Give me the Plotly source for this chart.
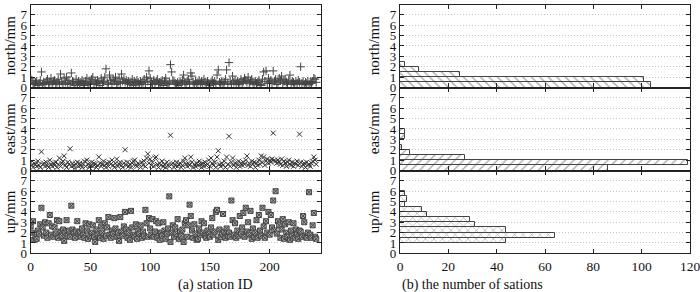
import plotly.graph_objects as go

station_ids = list(range(240))

north = [
    0.9, 0.7, 0.4, 0.3, 0.5, 0.6, 0.2, 0.4, 0.7, 1.5, 0.3, 0.5, 0.4, 0.6, 0.8, 0.3, 0.5, 0.9, 0.4, 0.6,
    0.7, 0.3, 0.5, 0.8, 0.4, 1.3, 0.6, 0.3, 0.9, 0.5, 1.0, 0.4, 0.7, 0.3, 1.4, 0.6, 0.5, 0.2, 0.8, 0.4,
    0.6, 0.3, 0.5, 0.7, 0.4, 0.2, 0.6, 0.9, 0.3, 0.5, 0.4, 0.8, 1.0, 0.3, 0.6, 0.4, 0.7, 0.5, 0.2, 0.9,
    0.4, 0.6, 1.0, 1.8, 0.5, 0.3, 1.2, 0.7, 0.4, 0.8, 0.6, 1.0, 0.3, 0.5, 0.9, 0.4, 1.3, 0.6, 0.8, 0.5,
    0.7, 0.4, 0.6, 0.3, 0.5, 0.8, 0.2, 0.6, 0.4, 0.7, 0.5, 0.3, 0.6, 0.4, 0.5, 0.8, 0.3, 1.0, 0.6, 1.6,
    0.9, 0.5, 0.3, 0.7, 0.4, 0.6, 0.8, 0.3, 0.5, 0.4, 0.7, 0.2, 0.6, 0.9, 0.4, 0.3, 0.5, 2.2, 1.5, 0.7,
    0.6, 0.4, 0.3, 0.5, 0.2, 0.6, 0.4, 0.7, 1.2, 0.5, 0.3, 0.6, 0.8, 0.4, 1.4, 1.1, 0.5, 0.3, 0.6, 0.4,
    0.5, 0.7, 0.3, 0.6, 0.4, 0.8, 0.5, 0.3, 0.6, 0.4, 0.2, 0.5, 0.7, 0.4, 0.6, 0.3, 1.2, 1.7, 0.5, 0.4,
    0.6, 0.3, 0.5, 0.8, 1.7, 0.4, 2.4, 0.6, 0.3, 1.1, 0.5, 0.7, 0.4, 0.6, 0.3, 0.5, 0.8, 0.4, 0.6, 0.9,
    0.7, 0.5, 1.0, 0.4, 0.6, 0.8, 0.5, 0.3, 0.6, 0.4, 0.5, 0.7, 0.3, 0.2, 0.8, 1.5, 0.6, 1.6, 0.4, 0.9,
    0.5, 0.7, 0.4, 1.6, 0.6, 0.8, 0.3, 0.5, 0.9, 0.7, 1.1, 0.4, 0.6, 0.8, 0.5, 0.3, 0.7, 1.2, 0.4, 0.6,
    0.5, 0.3, 0.6, 0.4, 0.7, 0.5, 2.0, 0.4, 0.6, 0.3, 0.5, 0.4, 0.6, 0.3, 0.5, 0.4, 0.6, 0.9, 0.8, 0.5,
]

east = [
    0.8, 0.5, 0.3, 0.7, 0.6, 0.4, 0.9, 0.5, 0.3, 1.8, 0.6, 0.7, 0.4, 0.8, 0.5, 0.3, 1.0, 0.6, 0.4, 0.7,
    0.5, 0.8, 0.3, 0.6, 1.2, 0.4, 0.7, 0.9, 1.4, 0.5, 0.3, 0.8, 0.6, 2.1, 0.4, 0.7, 0.5, 0.2, 0.6, 0.8,
    0.4, 0.7, 0.5, 0.3, 0.6, 0.9, 0.4, 1.0, 0.6, 0.3, 0.5, 0.8, 0.4, 0.7, 0.6, 0.3, 0.5, 1.3, 0.7, 0.4,
    0.6, 0.9, 0.5, 0.3, 0.7, 0.4, 0.8, 0.6, 1.0, 0.5, 0.3, 0.7, 1.1, 0.4, 0.6, 0.8, 0.5, 0.3, 0.7, 2.0,
    0.5, 0.8, 0.4, 0.6, 0.3, 0.7, 0.9, 1.0, 0.5, 0.4, 0.7, 0.6, 0.3, 0.8, 0.5, 0.9, 0.4, 1.2, 1.6, 0.7,
    1.1, 0.5, 0.8, 0.4, 1.2, 1.3, 0.6, 0.3, 0.7, 0.5, 0.9, 0.4, 0.6, 0.3, 0.8, 0.5, 0.4, 3.4, 0.6, 0.7,
    0.3, 0.5, 0.8, 0.4, 0.6, 0.7, 0.3, 0.5, 0.9, 1.2, 0.6, 0.4, 0.7, 0.5, 1.3, 0.8, 0.3, 0.6, 0.4, 0.7,
    0.5, 0.9, 0.6, 0.3, 0.7, 0.4, 0.8, 0.5, 0.6, 1.0, 0.4, 1.2, 0.7, 0.5, 0.8, 0.3, 1.3, 1.9, 0.6, 0.4,
    0.7, 0.5, 0.9, 0.3, 1.3, 0.6, 3.3, 0.4, 0.8, 1.2, 0.5, 0.7, 0.3, 0.6, 0.9, 0.4, 0.7, 0.5, 0.8, 0.6,
    1.0, 1.4, 0.5, 0.7, 0.4, 0.9, 0.6, 0.8, 0.3, 0.7, 0.5, 1.0, 0.6, 1.4, 0.8, 1.3, 0.5, 0.9, 1.1, 0.7,
    1.0, 0.8, 1.1, 3.6, 1.0, 0.9, 0.7, 1.0, 0.8, 0.6, 1.1, 0.5, 0.9, 0.7, 0.4, 0.8, 1.0, 0.6, 0.5, 0.8,
    0.4, 0.7, 0.6, 0.9, 0.5, 3.5, 0.8, 0.4, 0.6, 0.7, 0.3, 0.8, 0.5, 0.6, 0.4, 0.7, 0.9, 1.3, 1.0, 0.6,
]

up = [
    2.6, 2.0, 3.1, 1.3, 1.6, 1.4, 2.2, 1.9, 2.8, 4.4, 2.5, 1.7, 3.0, 2.0, 1.5, 2.9, 3.7, 1.8, 2.6, 1.6,
    2.5, 1.9, 3.2, 1.5, 3.1, 2.1, 1.7, 2.3, 1.2, 2.0, 3.2, 1.8, 2.2, 1.6, 4.6, 2.3, 2.0, 1.5, 2.1, 3.1,
    1.9, 2.1, 1.6, 2.4, 1.8, 1.5, 2.9, 2.2, 1.4, 2.8, 1.7, 2.0, 2.7, 1.6, 1.1, 2.3, 1.8, 3.2, 1.5, 2.6,
    2.0, 1.4, 2.9, 1.7, 2.5, 3.5, 1.8, 1.5, 2.2, 1.9, 3.4, 2.4, 1.6, 2.0, 1.2, 3.5, 2.1, 1.7, 2.6, 4.0,
    2.3, 1.5, 2.0, 1.3, 4.1, 2.5, 1.8, 1.6, 2.8, 1.4, 2.2, 1.9, 2.7, 1.5, 2.1, 1.7, 4.2, 2.9, 1.6, 3.4,
    2.4, 1.8, 3.3, 1.6, 2.1, 3.1, 1.5, 2.9, 1.3, 2.0, 1.7, 3.0, 2.2, 1.4, 1.9, 2.4, 5.5, 1.1, 2.0, 2.7,
    1.6, 2.5, 1.9, 3.3, 1.4, 2.1, 1.7, 2.3, 1.1, 2.9, 3.2, 1.6, 2.7, 4.7, 3.6, 2.2, 1.5, 2.8, 1.9, 1.3,
    1.4, 2.4, 1.8, 3.1, 2.0, 2.9, 1.7, 1.5, 2.2, 1.9, 1.6, 2.5, 3.4, 1.8, 2.1, 4.0, 4.2, 1.3, 2.3, 1.6,
    1.9, 3.8, 2.1, 1.5, 2.4, 1.7, 2.0, 1.6, 5.1, 3.2, 1.8, 2.9, 1.5, 2.2, 1.7, 3.6, 1.9, 2.5, 3.9, 1.6,
    4.4, 2.1, 3.0, 1.8, 4.1, 1.4, 2.4, 1.6, 2.0, 3.2, 1.5, 3.7, 2.2, 1.7, 4.4, 2.6, 1.5, 3.1, 2.0, 4.0,
    1.8, 3.7, 2.5, 5.1, 2.2, 6.0, 1.9, 3.1, 2.7, 1.5, 2.3, 3.3, 1.4, 2.8, 2.0, 1.6, 3.0, 1.3, 2.2, 1.7,
    2.9, 1.5, 2.3, 1.9, 1.4, 2.2, 2.1, 1.6, 3.6, 3.0, 1.7, 1.5, 2.0, 5.9, 1.8, 1.5, 2.7, 3.9, 1.6, 1.4,
]

# histogram bins (bin centres, mm) and counts of stations
north_bins = [0.25, 0.75, 1.25, 1.75, 2.25]
north_counts = [104, 101, 25, 8, 2]
east_bins = [0.25, 0.75, 1.25, 1.75, 2.25, 3.25, 3.75]
east_counts = [86, 119, 27, 4, 1, 2, 2]
up_bins = [1.25, 1.75, 2.25, 2.75, 3.25, 3.75, 4.25, 4.75, 5.25, 5.75]
up_counts = [44, 64, 44, 31, 29, 11, 9, 2, 3, 2]

y_titles = ["north/mm", "east/mm", "up/mm"]
x_titles = ["(a) station ID", "(b) the number of sations"]

W, H = 700, 292
SERIF = "Liberation Serif"

fig = go.Figure()

# panel geometry (pixels)
left_x = (30.7, 321.0)
right_x = (400.0, 690.0)
rows_px = [(5.0, 87.5), (88.0, 170.5), (171.0, 253.3)]

def xdom(px):
    return [px[0] / W, px[1] / W]

def ydom(px):
    return [(H - px[1]) / H, (H - px[0]) / H]

scatter_series = [north, east, up]
marker_styles = [
    dict(symbol="cross-thin", size=6, color="#444", line=dict(width=1, color="#444")),
    dict(symbol="x-thin", size=5, color="#333", line=dict(width=1, color="#333")),
    dict(symbol="square-x", size=5, color="#a8a8a8", line=dict(width=1, color="#444")),
]
hist = [(north_bins, north_counts, "\\"), (east_bins, east_counts, "/"), (up_bins, up_counts, "x")]

axis_common = dict(
    showline=True, linecolor="#222", linewidth=1.3, mirror="ticks",
    ticks="inside", ticklen=4, tickcolor="#222",
    tickfont=dict(family=SERIF, size=13.5, color="#111"),
    zeroline=False, automargin=False, ticklabeloverflow="allow",
)

for r in range(3):
    li = 2 * r + 1
    ri = 2 * r + 2
    fig.add_trace(go.Scatter(
        x=station_ids, y=scatter_series[r], mode="markers",
        marker=marker_styles[r], xaxis=f"x{li}", yaxis=f"y{li}",
        showlegend=False, cliponaxis=True,
    ))
    bins, counts, shape = hist[r]
    fig.add_trace(go.Bar(
        x=counts, y=bins, orientation="h", width=0.5,
        marker=dict(color="white", line=dict(color="#444", width=1),
                    pattern=dict(shape=shape, fgcolor="#444", bgcolor="white",
                                 size=6, solidity=0.2)),
        xaxis=f"x{ri}", yaxis=f"y{ri}", showlegend=False,
    ))
    last = (r == 2)
    for idx, xpx, xr, dtick in [(li, left_x, [0, 243], 50), (ri, right_x, [0, 120], 20)]:
        xa = dict(axis_common)
        xa.update(domain=xdom(xpx), range=xr, dtick=dtick, tick0=0,
                  anchor=f"y{idx}", showgrid=False,
                  showticklabels=last)
        ya = dict(axis_common)
        ya.update(domain=ydom(rows_px[r]), range=[0, 7.95], tickvals=list(range(8)),
                  tickfont=dict(family=SERIF, size=13, color="#111"),
                  anchor=f"x{idx}", showgrid=True, gridcolor="#c4c4c4",
                  griddash="1px,2px", gridwidth=1)
        fig.layout[f"xaxis{idx}"] = xa
        fig.layout[f"yaxis{idx}"] = ya

annotations = []
for r in range(3):
    yc = (H - (rows_px[r][0] + rows_px[r][1]) / 2) / H
    for xpx in (10, 374):
        annotations.append(dict(
            text=y_titles[r], x=xpx / W, y=yc, xref="paper", yref="paper",
            textangle=-90, showarrow=False, xanchor="center", yanchor="middle",
            font=dict(family=SERIF, size=15, color="#111")))
for i, xpx in enumerate((left_x, right_x)):
    annotations.append(dict(text=x_titles[i], x=(xpx[0] + xpx[1]) / 2 / W, y=(H - 285) / H,
                            xref="paper", yref="paper", showarrow=False, yanchor="middle",
                            font=dict(family=SERIF, size=14, color="#111")))

fig.update_layout(
    width=W, height=H, margin=dict(l=0, r=0, t=0, b=0),
    paper_bgcolor="white", plot_bgcolor="white",
    annotations=annotations, bargap=0,
)

fig.write_html("out.html", config={"displayModeBar": False},
               post_script="document.body.style.margin='0px';document.body.style.padding='0px';")
